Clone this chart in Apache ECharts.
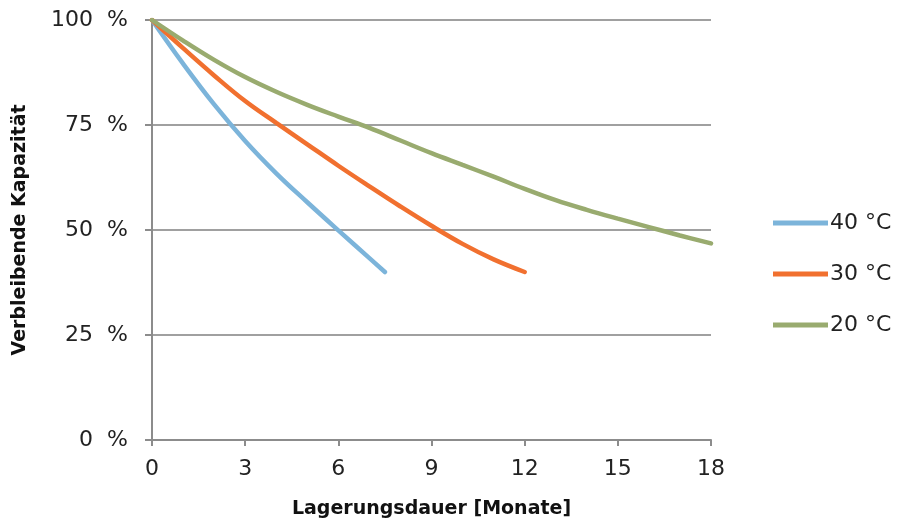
<!DOCTYPE html>
<html>
<head>
<meta charset="utf-8">
<script src="https://cdn.jsdelivr.net/npm/echarts@6/dist/echarts.min.js"></script>
<style>html,body{margin:0;padding:0;background:#fff}#c{width:898px;height:525px}</style>
</head>
<body>
<div id="c"></div>
<script>
const seriesNames = ['40 °C', '30 °C', '20 °C'];
const months40 = [0, 1, 2, 3, 4, 5, 6, 7, 7.5];
const values40 = [100, 89.6, 79.9, 71.2, 63.5, 56.6, 49.9, 43.3, 40.0];
const months30 = [0, 1, 2, 3, 4, 5, 6, 7, 8, 9, 10, 11, 12];
const values30 = [100, 93.3, 86.8, 80.7, 75.5, 70.4, 65.3, 60.4, 55.6, 51.0, 46.7, 43.0, 40.0];
const months20 = [0, 1, 2, 3, 4, 5, 6, 7, 8, 9, 10, 11, 12, 13, 14, 15, 16, 17, 18];
const values20 = [100, 95.1, 90.5, 86.4, 82.9, 79.8, 77.0, 74.3, 71.3, 68.3, 65.5, 62.7, 59.8, 57.1, 54.8, 52.7, 50.7, 48.7, 46.8];
const xTicks = [0, 3, 6, 9, 12, 15, 18];
const yTicks = [0, 25, 50, 75, 100];
const colors = ['#7cb4da', '#f1702f', '#99ab6f'];

const pair = (xs, ys) => xs.map((x, i) => [x, ys[i]]);
const chart = echarts.init(document.getElementById('c'));
const font = '"DejaVu Sans", sans-serif';
const boldFont = '"DejaVu Sans", sans-serif';
const mkSeries = (i, xs, ys) => ({
  name: seriesNames[i], type: 'line', smooth: 0.4, symbol: 'none',
  lineStyle: {width: 4.5, cap: 'round'}, data: pair(xs, ys)
});
chart.setOption({
  animation: false,
  color: colors,
  grid: {left: 152, right: 187, top: 20, bottom: 85, containLabel: false},
  legend: {
    orient: 'vertical', left: 768, top: 207,
    itemWidth: 55, itemHeight: 5, itemGap: 29,
    icon: 'rect',
    textStyle: {fontFamily: font, fontSize: 22, color: '#222', padding: [0, 0, 0, -3], lineHeight: 22},
    data: seriesNames
  },
  xAxis: {
    type: 'value', min: xTicks[0], max: xTicks[xTicks.length - 1], interval: 3,
    name: 'Lagerungsdauer [Monate]', nameLocation: 'middle', nameGap: 60,
    nameTextStyle: {fontFamily: boldFont, fontSize: 19, fontWeight: 'bold', color: '#111'},
    axisLine: {lineStyle: {color: '#8c8c8c', width: 2}},
    axisTick: {show: true, length: 6, lineStyle: {color: '#8c8c8c', width: 2}},
    axisLabel: {fontFamily: font, fontSize: 22, color: '#222', margin: 18},
    splitLine: {show: false}
  },
  yAxis: {
    type: 'value', min: yTicks[0], max: yTicks[yTicks.length - 1], interval: 25,
    name: 'Verbleibende Kapazität', nameLocation: 'middle', nameGap: 122, nameRotate: 90,
    nameTextStyle: {fontFamily: boldFont, fontSize: 19, fontWeight: 'bold', color: '#111'},
    axisLine: {show: true, lineStyle: {color: '#8c8c8c', width: 2}},
    axisTick: {show: true, length: 7, lineStyle: {color: '#8c8c8c', width: 2}},
    axisLabel: {fontFamily: font, fontSize: 22, color: '#222', margin: 24, formatter: '{value}  %'},
    splitLine: {show: true, lineStyle: {color: '#a0a0a0', width: 2}}
  },
  series: [
    mkSeries(0, months40, values40),
    mkSeries(1, months30, values30),
    mkSeries(2, months20, values20)
  ]
});
</script>
</body>
</html>
